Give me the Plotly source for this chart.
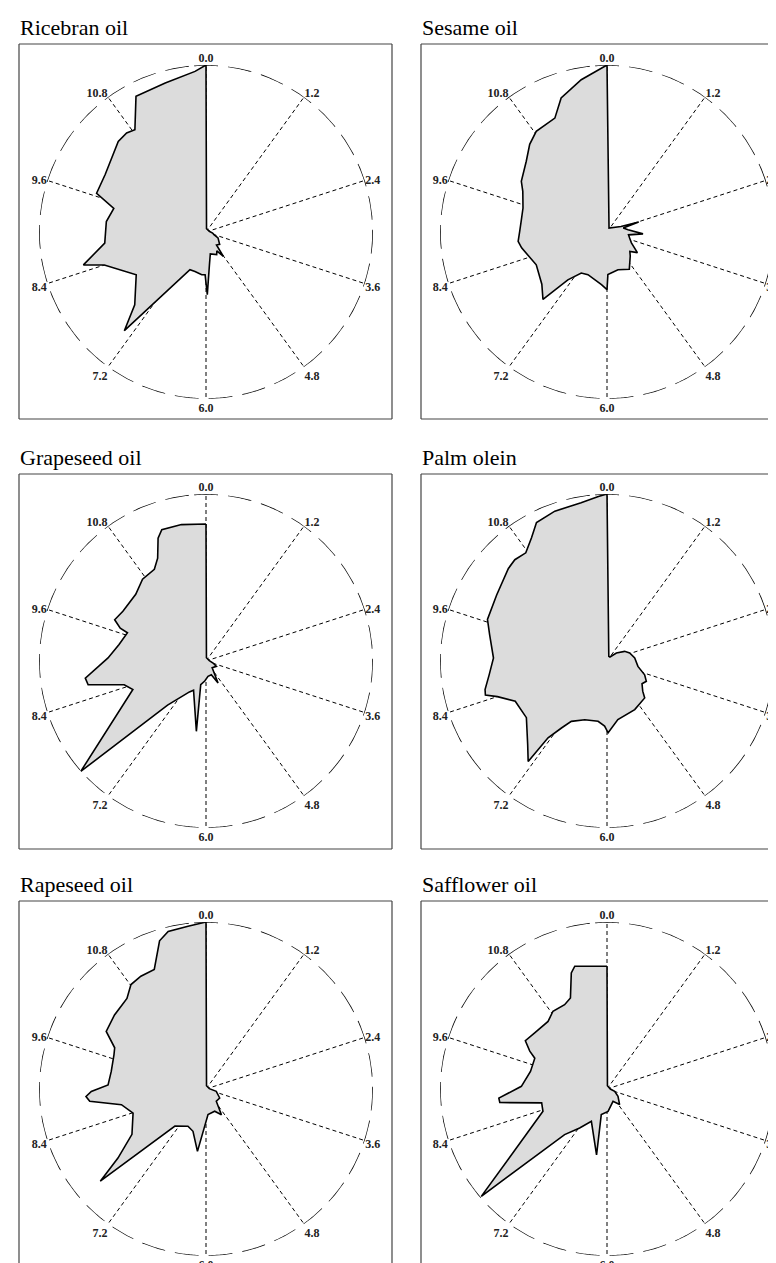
import numpy as np
import plotly.graph_objects as go

W, H = 776, 1263

# ---- data (theta in minutes 0-12, r = relative intensity 0-1) ----
tick_vals = [0.0, 1.2, 2.4, 3.6, 4.8, 6.0, 7.2, 8.4, 9.6, 10.8]
tick_text = ["0.0", "1.2", "2.4", "3.6", "4.8", "6.0", "7.2", "8.4", "9.6", "10.8"]

names = ["Ricebran oil", "Sesame oil", "Grapeseed oil", "Palm olein", "Rapeseed oil", "Safflower oil"]

ricebran_t = [0.0, 0.3, 2.6, 3.3, 3.6, 3.87, 4.4, 4.7, 4.82, 5.0, 5.16, 5.63, 5.8, 5.96, 6.04, 6.19, 6.52, 6.77,
              7.32, 7.48, 7.95, 8.40, 8.50, 8.79, 9.20, 9.48, 9.65, 9.99, 10.53, 10.71, 10.84, 11.09, 11.49, 11.87, 12.0]
ricebran_r = [1.0, 0.02, 0.02, 0.04, 0.05, 0.08, 0.11, 0.10, 0.18, 0.13, 0.15, 0.134, 0.197, 0.375, 0.256, 0.257, 0.245, 0.245,
              0.767, 0.61, 0.49, 0.64, 0.76, 0.61, 0.60, 0.57, 0.695, 0.695, 0.755, 0.76, 0.746, 0.914, 0.925, 0.964, 1.0]

sesame_t = [0.0, 0.89, 2.28, 2.42, 2.55, 2.79, 3.10, 3.25, 3.49, 3.8, 4.14, 4.35, 4.53, 4.97, 5.46, 5.96, 6.0, 6.2, 6.8,
            7.07, 7.31, 7.45, 7.71, 8.17, 8.65, 8.8, 9.01, 9.27, 9.53, 9.86, 10.02, 10.37, 10.62, 10.83, 11.18, 11.37, 11.68, 12.0]
sesame_r = [1.0, 0.027, 0.09, 0.199, 0.10, 0.127, 0.216, 0.13, 0.14, 0.16, 0.22, 0.18, 0.20, 0.26, 0.235, 0.255, 0.345, 0.317, 0.28,
            0.29, 0.37, 0.557, 0.50, 0.467, 0.52, 0.535, 0.523, 0.518, 0.523, 0.56, 0.596, 0.642, 0.70, 0.737, 0.75, 0.848, 0.925, 1.0]

grapeseed_t = [0.0, 0.25, 2.8, 3.53, 3.9, 4.6, 5.04, 5.29, 5.75, 6.12, 6.42, 6.26, 6.77, 6.94, 7.37, 7.62, 8.29, 8.46, 8.62,
               8.73, 9.06, 9.36, 9.66, 9.70, 9.81, 10.03, 10.45, 10.74, 11.02, 11.16, 11.29, 11.38, 11.66, 12.0]
grapeseed_r = [0.82, 0.02, 0.02, 0.044, 0.07, 0.055, 0.15, 0.088, 0.093, 0.12, 0.145, 0.425, 0.19, 0.21, 0.35, 1.0, 0.47, 0.51, 0.72,
               0.73, 0.587, 0.53, 0.50, 0.55, 0.60, 0.58, 0.58, 0.62, 0.63, 0.68, 0.79, 0.83, 0.83, 0.82]

palm_t = [0.0, 0.7, 1.2, 1.65, 2.04, 2.35, 2.79, 3.33, 3.67, 3.91, 4.1, 4.34, 4.48, 5.01, 5.65, 5.97, 6.07, 6.28, 6.69, 7.02,
          7.14, 7.25, 7.27, 7.45, 7.83, 8.21, 8.40, 8.48, 8.56, 8.78, 9.05, 9.42, 9.64, 10.03, 10.44, 10.59, 10.77, 10.95,
          11.1, 11.36, 11.69, 11.9, 12.0]
palm_r = [1.0, 0.03, 0.03, 0.074, 0.12, 0.144, 0.167, 0.188, 0.24, 0.265, 0.25, 0.28, 0.316, 0.335, 0.357, 0.43, 0.39, 0.365, 0.376, 0.42,
          0.485, 0.58, 0.765, 0.69, 0.59, 0.60, 0.69, 0.756, 0.75, 0.71, 0.68, 0.72, 0.758, 0.77, 0.81, 0.82, 0.81, 0.865,
          0.93, 0.95, 0.96, 0.987, 1.0]

rapeseed_t = [0.0, 0.3, 2.8, 3.42, 4.11, 4.67, 4.97, 5.29, 5.85, 6.26, 6.57, 6.86, 7.33, 7.63, 7.73, 7.95, 8.39, 8.65, 8.8,
              8.88, 8.96, 9.08, 9.35, 9.68, 9.81, 10.0, 10.3, 10.63, 10.81, 11.0, 11.22, 11.42, 11.55, 11.79, 12.0]
rapeseed_r = [1.0, 0.02, 0.02, 0.063, 0.098, 0.096, 0.18, 0.143, 0.154, 0.377, 0.265, 0.248, 0.29, 0.84, 0.67, 0.52, 0.46, 0.515, 0.70,
              0.72, 0.687, 0.587, 0.577, 0.588, 0.60, 0.69, 0.705, 0.72, 0.77, 0.78, 0.78, 0.93, 0.97, 0.98, 1.0]

safflower_t = [0.0, 0.25, 3.0, 3.57, 4.12, 4.7, 5.13, 5.91, 6.42, 6.3, 6.86, 7.17, 7.43, 7.65, 8.36, 8.6, 8.76, 8.84,
               9.06, 9.43, 9.77, 9.87, 10.02, 10.26, 10.63, 10.84, 11.11, 11.27, 11.43, 11.51, 12.0]
safflower_r = [0.735, 0.02, 0.02, 0.048, 0.079, 0.12, 0.082, 0.134, 0.157, 0.40, 0.215, 0.285, 0.373, 0.99, 0.406, 0.40, 0.647, 0.65,
               0.513, 0.47, 0.47, 0.515, 0.568, 0.548, 0.537, 0.567, 0.565, 0.587, 0.727, 0.76, 0.735]

series_t = [ricebran_t, sesame_t, grapeseed_t, palm_t, rapeseed_t, safflower_t]
series_r = [ricebran_r, sesame_r, grapeseed_r, palm_r, rapeseed_r, safflower_r]

# ---- layout geometry (pixels) ----
col_cx = [198, 599]
row_cy = [224, 653, 1081]
R = 167
box_x = [(11, 384), (413, 786)]
box_y = [(36, 411), (466, 841), (893, 1270)]

DEG = 30.0  # 12 minutes -> 360 degrees

fig = go.Figure()
layout_polars = {}
shapes = []
annotations = []

def px(x):
    return x / W

def py(y):
    return 1 - y / H

# outer reference circle, started so that one dash is centred on 0.0
circle_theta = np.linspace(-4.1, 355.9, 721)

for i, name in enumerate(names):
    col, row = i % 2, i // 2
    cx, cy = col_cx[col], row_cy[row]
    pid = "polar" if i == 0 else f"polar{i+1}"

    fig.add_trace(go.Scatterpolar(
        r=np.ones_like(circle_theta), theta=circle_theta, mode="lines",
        line=dict(color="black", width=1.6, dash="24px,10px"),
        subplot=pid, hoverinfo="skip", showlegend=False))

    fig.add_trace(go.Scatterpolar(
        r=series_r[i], theta=[t * DEG for t in series_t[i]], mode="lines",
        fill="toself", fillcolor="#dcdcdc",
        line=dict(color="black", width=1.6),
        subplot=pid, name=name, showlegend=False))

    layout_polars[pid] = dict(
        domain=dict(x=[px(cx - R), px(cx + R)], y=[py(cy + R), py(cy - R)]),
        bgcolor="rgba(0,0,0,0)",
        radialaxis=dict(visible=False, range=[0, 1]),
        angularaxis=dict(
            rotation=90, direction="clockwise",
            tickmode="array",
            tickvals=[v * DEG for v in tick_vals], ticktext=tick_text,
            showline=False, showgrid=True, gridcolor="black", gridwidth=1.1,
            griddash="4px,3px", ticks="",
            tickfont=dict(family="Liberation Serif", size=12, color="#222", weight="bold"),
        ),
    )

    x0, x1 = box_x[col]
    y0, y1 = box_y[row]
    lc = dict(color="#444", width=1.2)
    shapes.append(dict(type="line", xref="paper", yref="paper", x0=px(x0), x1=px(min(x1, W + 5)), y0=py(y0), y1=py(y0), line=lc))
    shapes.append(dict(type="line", xref="paper", yref="paper", x0=px(x0), x1=px(x0), y0=py(y0), y1=py(min(y1, H + 5)), line=lc))
    if x1 <= W:
        shapes.append(dict(type="line", xref="paper", yref="paper", x0=px(x1), x1=px(x1), y0=py(y0), y1=py(min(y1, H + 5)), line=lc))
    if y1 <= H:
        shapes.append(dict(type="line", xref="paper", yref="paper", x0=px(x0), x1=px(min(x1, W + 5)), y0=py(y1), y1=py(y1), line=lc))

    annotations.append(dict(
        text=name, xref="paper", yref="paper", x=px(x0 - 1), y=py(y0 - 2),
        xanchor="left", yanchor="bottom", showarrow=False,
        font=dict(family="Liberation Serif", size=22, color="black")))

fig.update_layout(
    width=W, height=H,
    margin=dict(l=0, r=0, t=0, b=0),
    paper_bgcolor="white", plot_bgcolor="white",
    shapes=shapes, annotations=annotations,
    showlegend=False,
    **layout_polars,
)

fig.write_html("out.html")
